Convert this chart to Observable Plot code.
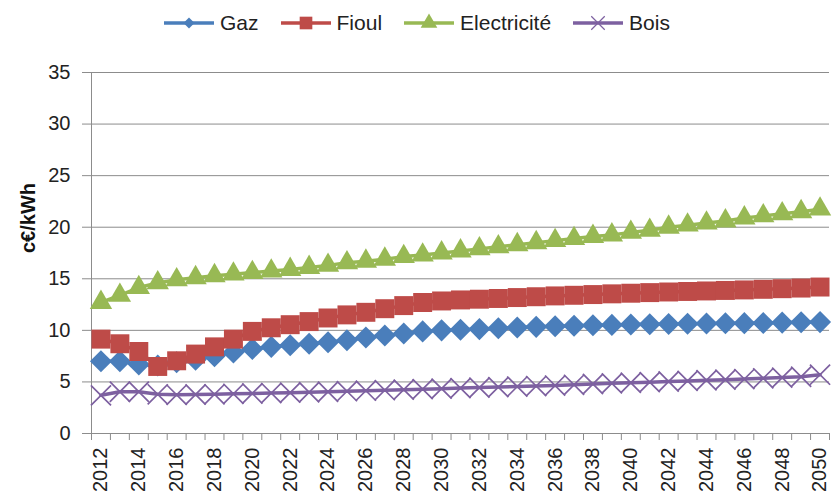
<!DOCTYPE html>
<html>
<head>
<meta charset="utf-8">
<script src="https://cdn.jsdelivr.net/npm/d3@7"></script>
<script src="https://cdn.jsdelivr.net/npm/@observablehq/plot@0.6"></script>
<style>
  body { margin: 0; background: #fff; font-family: "Liberation Sans", Arial, sans-serif; }
  #legend { height: 45px; display: flex; justify-content: center; align-items: center; font-size: 21px; color: #222; }
  .item { display: flex; align-items: center; margin: 0 11px; }
  .item svg { margin-right: 6px; }
  #chart svg { display: block; }
</style>
</head>
<body>
<div id="legend"></div>
<div id="chart"></div>
<script>
// ---- Data ----
const years = [2012,2013,2014,2015,2016,2017,2018,2019,2020,2021,2022,2023,2024,2025,2026,2027,2028,2029,2030,
               2031,2032,2033,2034,2035,2036,2037,2038,2039,2040,2041,2042,2043,2044,2045,2046,2047,2048,2049,2050];
const seriesNames = ["Gaz", "Fioul", "Electricité", "Bois"];
const gaz = [7.0,7.0,6.7,6.6,6.9,7.15,7.5,7.85,8.2,8.4,8.55,8.7,8.85,9.05,9.3,9.5,9.7,9.9,10.0,
             10.05,10.12,10.2,10.27,10.34,10.4,10.45,10.5,10.53,10.56,10.59,10.62,10.64,10.66,10.68,10.7,10.72,10.75,10.78,10.8];
const fioul = [9.15,8.7,7.95,6.5,7.05,7.7,8.4,9.15,9.9,10.25,10.55,10.85,11.2,11.5,11.75,12.1,12.4,12.7,12.85,
               12.95,13.02,13.09,13.18,13.26,13.34,13.4,13.47,13.54,13.6,13.66,13.72,13.77,13.82,13.87,13.92,13.98,14.04,14.1,14.2];
const electricite = [12.7,13.4,14.15,14.6,14.9,15.1,15.3,15.45,15.6,15.75,15.9,16.1,16.3,16.55,16.7,16.9,17.15,17.3,17.5,
                     17.7,17.9,18.1,18.3,18.5,18.7,18.9,19.1,19.25,19.5,19.7,20.0,20.2,20.4,20.6,20.9,21.1,21.3,21.5,21.75];
const bois = [3.7,4.05,4.05,3.8,3.75,3.78,3.8,3.85,3.88,3.92,3.96,4.0,4.05,4.1,4.15,4.2,4.25,4.3,4.35,
              4.4,4.45,4.5,4.55,4.6,4.65,4.72,4.8,4.86,4.92,4.98,5.04,5.1,5.16,5.22,5.28,5.35,5.42,5.5,5.7];
const yTicks = [0,5,10,15,20,25,30,35];
const xLabelYears = [2012,2014,2016,2018,2020,2022,2024,2026,2028,2030,2032,2034,2036,2038,2040,2042,2044,2046,2048,2050];
const yLabel = "c€/kWh";

// ---- Styling ----
const colors = ["#4A7EBB", "#BE4B48", "#98B954", "#7D60A0"];
const symbols = ["square", "square", "triangle", "times"];
const rotates = [45, 0, 0, 0];
const radii = [8.8, 10.7, 8.3, 9.2];
const valuesBySeries = [gaz, fioul, electricite, bois];

const rows = seriesNames.map((name, i) => years.map((yr, j) => ({series: name, year: yr, value: valuesBySeries[i][j]})));
const boundaries = years.map(y => y - 0.5).concat([years[years.length - 1] + 0.5]);

const seriesMarks = rows.flatMap((data, i) => [
  Plot.line(data, {x: "year", y: "value", stroke: colors[i], strokeWidth: 3.5, curve: "linear"}),
  symbols[i] === "times"
    ? Plot.dot(data, {x: "year", y: "value", symbol: "times", r: radii[i], stroke: colors[i], strokeWidth: 1.7})
    : Plot.dot(data, {x: "year", y: "value", symbol: symbols[i], rotate: rotates[i], r: radii[i], fill: colors[i], stroke: "none"})
]);

const chart = Plot.plot({
  width: 834,
  height: 452,
  marginTop: 27,
  marginBottom: 64,
  marginLeft: 91,
  marginRight: 5,
  style: {fontFamily: "'Liberation Sans', Arial, sans-serif", fontSize: "20px", color: "#222", background: "#fff", overflow: "visible"},
  x: {type: "linear", domain: [boundaries[0], boundaries[boundaries.length - 1]]},
  y: {domain: [0, 35]},
  marks: [
    Plot.gridY(yTicks, {stroke: "#8c8c8c", strokeOpacity: 1, strokeWidth: 1}),
    Plot.axisY({ticks: yTicks, tickSize: 9, tickPadding: 12, fontSize: 20, label: null, stroke: "#8c8c8c", fill: "#222"}),
    Plot.axisX({ticks: boundaries, tickSize: 7, tickFormat: () => "", label: null, stroke: "#8c8c8c"}),
    Plot.axisX({ticks: xLabelYears, tickSize: 0, tickPadding: 14, tickRotate: -90, tickFormat: d => String(d), fontSize: 20, label: null, fill: "#222"}),
    Plot.ruleX([boundaries[0]], {stroke: "#8c8c8c", strokeWidth: 1}),
    Plot.ruleY([0], {stroke: "#8c8c8c", strokeWidth: 1}),
    ...seriesMarks,
    Plot.text([yLabel], {frameAnchor: "left", dx: -63, rotate: -90, fontSize: 20, fontWeight: "bold", fill: "#111"})
  ]
});
document.getElementById("chart").appendChild(chart);

// ---- Legend ----
const legend = d3.select("#legend");
const symbolTypes = {diamond: d3.symbolSquare, square: d3.symbolSquare, triangle: d3.symbolTriangle, times: d3.symbolTimes};
const legendSyms = ["diamond", "square", "triangle", "times"];
const legendSizes = [60, 160, 120, 120];
seriesNames.forEach((name, i) => {
  const item = legend.append("div").attr("class", "item");
  const svg = item.append("svg").attr("width", 50).attr("height", 20);
  svg.append("line").attr("x1", 0).attr("x2", 50).attr("y1", 10).attr("y2", 10)
    .attr("stroke", colors[i]).attr("stroke-width", 3.5);
  const p = svg.append("path")
    .attr("d", d3.symbol().type(symbolTypes[legendSyms[i]]).size(legendSizes[i])())
    .attr("transform", `translate(25,10) rotate(${legendSyms[i] === "diamond" ? 45 : 0})`);
  if (legendSyms[i] === "times") p.attr("fill", "none").attr("stroke", colors[i]).attr("stroke-width", 1.2);
  else p.attr("fill", colors[i]);
  item.append("span").text(name);
});
</script>
</body>
</html>
